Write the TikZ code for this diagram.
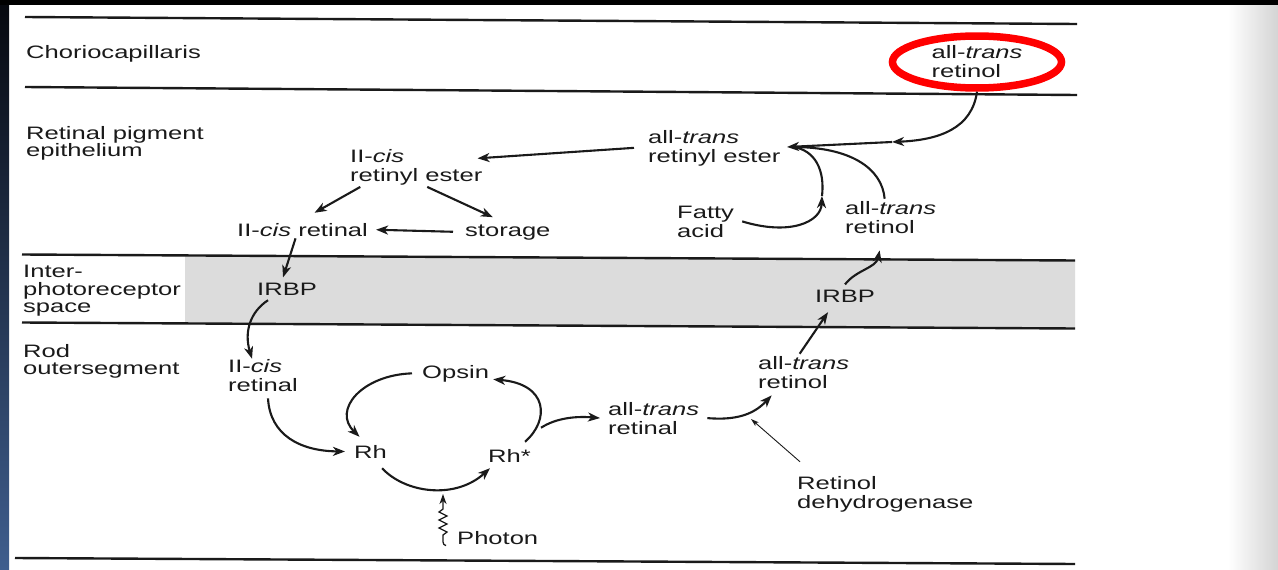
\documentclass[tikz,border=0pt]{standalone}
\usepackage{fontspec}
\setmainfont{Liberation Sans}[FakeStretch=1.42]
\usetikzlibrary{arrows.meta,shapes.geometric}
\definecolor{ink}{HTML}{1A1A1A}
\definecolor{band}{HTML}{DCDCDC}
\definecolor{navytop}{HTML}{06080E}
\definecolor{navybot}{HTML}{3F5E8E}
\definecolor{edgegray}{HTML}{D4D4D4}
\begin{document}
\begin{tikzpicture}[x=1pt,y=-1pt,
  lab/.style={anchor=base west, inner sep=2pt, align=left, text=ink, font=\fontsize{18}{19}\selectfont},
  region/.style={lab, font=\fontsize{18}{17.5}\selectfont},
  layer/.style={draw=ink, line width=2.4pt},
  arr/.style={draw=ink, line width=2.1pt, -{Stealth[length=12pt,width=9pt,inset=3.5pt]}},
  thinarr/.style={draw=ink, line width=0.9pt, -{Stealth[length=8pt,width=5pt,inset=2pt]}},
  plain/.style={draw=ink, line width=2.1pt}]

\useasboundingbox (0,0) rectangle (1278,570);
\fill[white] (0,0) rectangle (1278,570);
\shade[left color=white, right color=edgegray] (1228,0) rectangle (1278,570);
\shade[top color=navytop, bottom color=navybot] (0,0) rectangle (9,570);
\fill[black] (0,0) rectangle (1278,4.5);

% interphotoreceptor band
\fill[band] (185,255) -- (1075,260.5) -- (1075,328.5) -- (185,323.5) -- cycle;

% layer lines
\draw[layer] (25,17) -- (1077,24);
\draw[layer] (25,87) -- (1077,95);
\draw[layer] (22,254.5) -- (1075,260.5);
\draw[layer] (22,322.5) -- (1075,328.5);
\draw[layer] (15,558) -- (1075,564);

% region labels (anchor = baseline of last line)
\node[region] (choro) at (24,58) {Choriocapillaris};
\node[region] (rpe) at (24,156.5) {Retinal pigment\\epithelium};
\node[region] (ips) at (21,312.5) {Inter-\\photoreceptor\\space};
\node[region] (ros) at (21,374.5) {Rod\\outersegment};

% circled retinol
\node[ellipse, draw=red, line width=7.5pt, minimum width=169pt, minimum height=52pt,
      inner sep=0pt, align=left, text=ink, font=\fontsize{18}{19}\selectfont]
      (cret) at (977,62) {all-\textit{trans}\\retinol};

% diagram nodes (anchor = baseline of last line)
\node[lab] (atre) at (646,162) {all-\textit{trans}\\retinyl ester};
\node[lab] (crete) at (348,181) {II-\textit{cis}\\retinyl ester};
\node[lab] (cretal) at (235,236) {II-\textit{cis} retinal};
\node[lab] (stor) at (463,236) {storage};
\node[lab] (irbpL) at (255,295) {IRBP};
\node[lab] (fatty) at (675,237) {Fatty\\acid};
\node[lab] (atrolR) at (843,233) {all-\textit{trans}\\retinol};
\node[lab] (irbpR) at (813,302) {IRBP};
\node[lab] (cretalR) at (226,391) {II-\textit{cis}\\retinal};
\node[lab] (opsin) at (420,378) {Opsin};
\node[lab] (rh) at (352,458) {Rh};
\node[lab] (rhs) at (486,462) {Rh*};
\node[lab] (atral) at (606,434) {all-\textit{trans}\\retinal};
\node[lab] (atrolrod) at (756,388) {all-\textit{trans}\\retinol};
\node[lab] (rdh) at (795,508) {Retinol\\dehydrogenase};
\node[lab] (photon) at (455,544) {Photon};

\coordinate (conv) at (787,147);
\coordinate (m1) at (892,142);
\coordinate (m2) at (822,196);
\coordinate (rdhtip) at (751,419);
\coordinate (phtip) at (443,494);

% RPE connectors
\draw[arr] (cret.south) .. controls (972,128) and (940,140) .. (m1);
\draw[arr] (m1) -- (conv);
\draw[arr] ([xshift=6pt]fatty.east) .. controls (790,236) and (821,222) .. (m2);
\draw[plain] (m2) .. controls (825,170) and (815,150) .. ([xshift=6pt]conv);
\draw[plain] ([xshift=-6pt]atrolR.north) .. controls (882,168) and (850,147) .. ([xshift=6pt]conv);
\draw[arr] ([xshift=-12pt]atre.west) -- ([xshift=-7pt,yshift=8.5pt]crete.east);
\draw[arr] ([xshift=-56pt]crete.south) -- ([xshift=12pt,yshift=8pt]cretal.north);
\draw[arr] ([xshift=11pt]crete.south) -- ([xshift=-15pt,yshift=5pt]stor.north);
\draw[arr, shorten <=10pt, shorten >=6pt] (stor.west) -- (cretal.east);
\draw[arr] ([xshift=-7pt]cretal.south) -- ([xshift=-4pt,yshift=3pt]irbpL.north);

% interphotoreceptor / rod connectors
\draw[arr] ([xshift=-19pt,yshift=-3pt]irbpL.south) .. controls (250,312) and (244,332) .. ([xshift=-11pt,yshift=-2pt]cretalR.north);
\draw[arr] ([xshift=5pt,yshift=-5pt]cretalR.south) .. controls (270,435) and (300,451) .. ([xshift=-7pt]rh.west);
\draw[arr] ([xshift=-8pt]opsin.west) .. controls (362,375) and (332,410) .. ([xshift=-11pt,yshift=6pt]rh.north);
\draw[arr] ([xshift=-7pt,yshift=-8pt]rh.south east) .. controls (405,493) and (455,500) .. ([xshift=4pt,yshift=-4pt]rhs.south west);
\draw[arr] ([xshift=-8pt,yshift=5pt]rhs.north east) .. controls (550,420) and (548,384) .. ([xshift=2pt,yshift=-6pt]opsin.east);
\draw[arr] ([xshift=8pt,yshift=19pt]rhs.north east) .. controls (556,418) and (576,416) .. ([xshift=-6pt]atral.west);
\draw[arr] ([xshift=6pt]atral.east) .. controls (740,421) and (756,412) .. ([xshift=-32pt,yshift=-5pt]atrolrod.south);
\draw[thinarr] ([xshift=5pt,yshift=12pt]rdh.north west) -- (rdhtip);
\draw[arr] ([xshift=-4pt]atrolrod.north) -- ([xshift=-17pt,yshift=-8pt]irbpR.south);
\draw[arr] ([yshift=3pt]irbpR.north) .. controls (856,270) and (876,268) .. ([xshift=-11pt,yshift=-15pt]atrolR.south);

% photon squiggle
\draw[draw=ink, line width=1.3pt, -{Stealth[length=10pt,width=7pt,inset=3pt]}]
  ([xshift=-9pt,yshift=-8pt]photon.west) .. controls (442,545) and (443,540) .. (443,535)
  -- ++(4,-3) -- ++(-8,-4) -- ++(8,-4) -- ++(-8,-4) -- ++(8,-4) -- ++(-8,-4) -- ++(4,-3) -- (phtip);
\end{tikzpicture}
\end{document}
